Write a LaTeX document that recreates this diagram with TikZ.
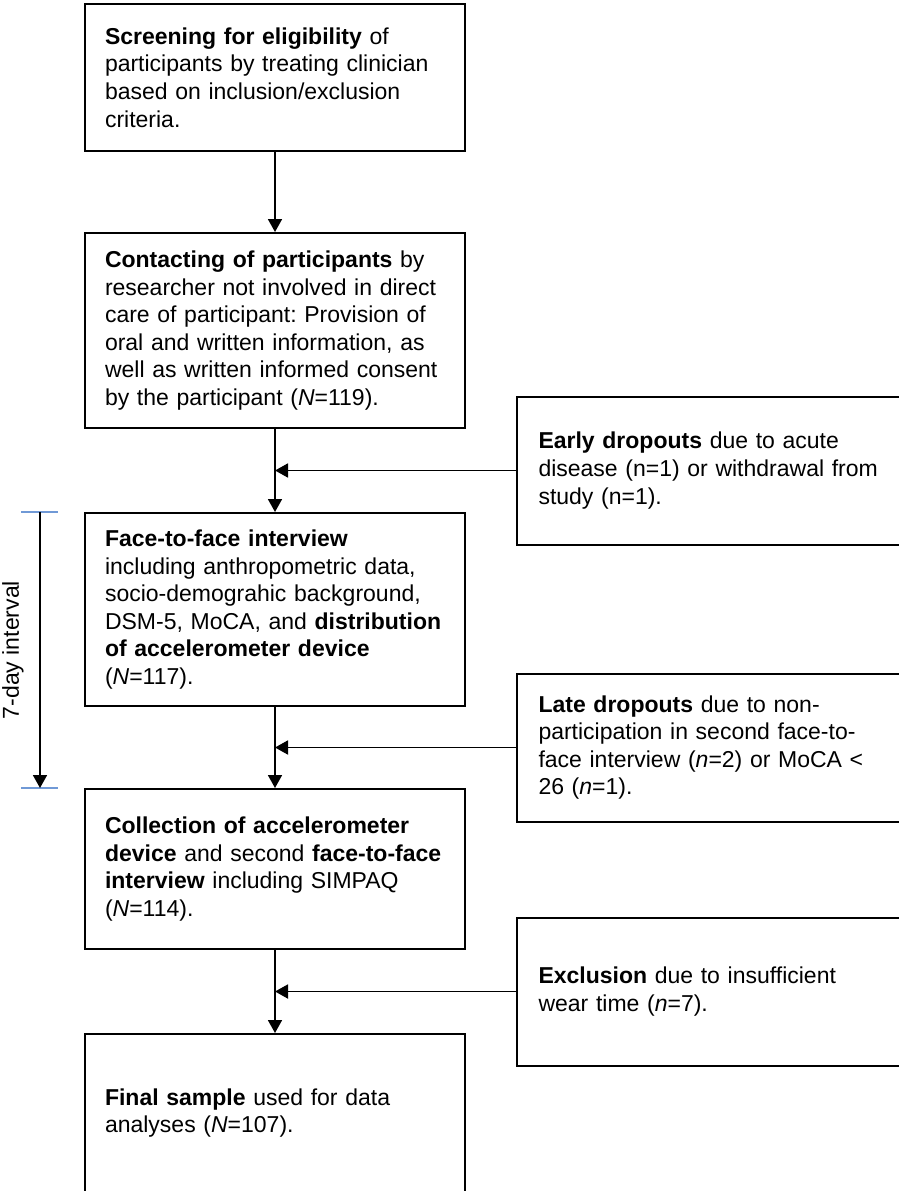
\documentclass[tikz,border=0pt]{standalone}
\usepackage{fontspec}
\setmainfont{Liberation Sans}
\usetikzlibrary{positioning,arrows.meta,calc}
\definecolor{tickblue}{RGB}{112,153,214}
\frenchspacing

\begin{document}
\begin{tikzpicture}[
        x=1pt, y=-1pt,
        stagebox/.style={draw, line width=2pt, text width=340pt, inner xsep=20pt, inner ysep=0pt, align=left},
        dropbox/.style={draw, line width=2pt, text width=340pt, inner xsep=21.5pt, inner ysep=0pt, align=left, minimum height=148pt},
        flow/.style={-{Triangle[length=13pt,width=14pt]}, line width=1.8pt},
        font=\fontsize{23}{27.6}\selectfont
    ]
    \useasboundingbox (0,0) rectangle (898,1191);

    \node[stagebox, minimum height=147pt, anchor=north west] (s1) at (84,3)
        {\textbf{Screening for eligibility} of\\ participants by treating clinician\\ based on inclusion/exclusion\\ criteria.};
    \node[stagebox, minimum height=195pt, below=80pt of s1] (s2)
        {\textbf{Contacting of participants} by\\ researcher not involved in direct\\ care of participant: Provision of\\ oral and written information, as\\ well as written informed consent\\ by the participant (\textit{N}=119).};
    \node[stagebox, minimum height=193pt, below=83pt of s2] (s3)
        {\textbf{Face-to-face interview}\\ including anthropometric data,\\ socio-demograhic background,\\ DSM-5, MoCA, and \textbf{distribution}\\ \textbf{of accelerometer device}\\ (\textit{N}=117).};
    \node[stagebox, minimum height=160pt, below=81pt of s3] (s4)
        {\textbf{Collection of accelerometer}\\ \textbf{device} and second \textbf{face-to-face}\\ \textbf{interview} including SIMPAQ\\ (\textit{N}=114).};
    \node[stagebox, minimum height=158pt, below=83pt of s4] (s5)
        {\textbf{Final sample} used for data\\ analyses (\textit{N}=107).};

    % dropouts, centred on the gaps between the stages
    \path (s2.south east) -- coordinate[midway] (g1) (s3.north east);
    \path (s3.south east) -- coordinate[midway] (g2) (s4.north east);
    \path (s4.south east) -- coordinate[midway] (g3) (s5.north east);

    \node[dropbox, right=50pt of g1] (d1)
        {\textbf{Early dropouts} due to acute\\ disease (n=1) or withdrawal from\\ study (n=1).};
    \node[dropbox, right=50pt of g2] (d2)
        {\textbf{Late dropouts} due to non-\\ participation in second face-to-\\ face interview (\textit{n}=2) or MoCA <\\ 26 (\textit{n}=1).};
    \node[dropbox, right=50pt of g3] (d3)
        {\textbf{Exclusion} due to insufficient\\ wear time (\textit{n}=7).};

    \draw[flow] (s1) -- (s2);
    \draw[flow] (s2) -- (s3);
    \draw[flow] (s3) -- (s4);
    \draw[flow] (s4) -- (s5);

    \coordinate (j1) at (d1 -| s2);
    \coordinate (j2) at (d2 -| s3);
    \coordinate (j3) at (d3 -| s4);
    \draw[flow] (d1) -- (j1);
    \draw[flow] (d2) -- (j2);
    \draw[flow] (d3) -- (j3);

    % interval marker
    \coordinate (itop) at ([xshift=-44pt]s3.north west);
    \coordinate (ibot) at ([xshift=-44pt]s4.north west);
    \draw[tickblue, line width=1.5pt] ([xshift=-19pt]itop) -- ([xshift=18pt]itop);
    \draw[tickblue, line width=1.5pt] ([xshift=-19pt]ibot) -- ([xshift=18pt]ibot);
    \draw[flow] (itop) -- (ibot);
    \node[rotate=90] (ilabel) at ($(itop)!0.5!(ibot)+(-27,0)$) {7-day interval};
\end{tikzpicture}
\end{document}
